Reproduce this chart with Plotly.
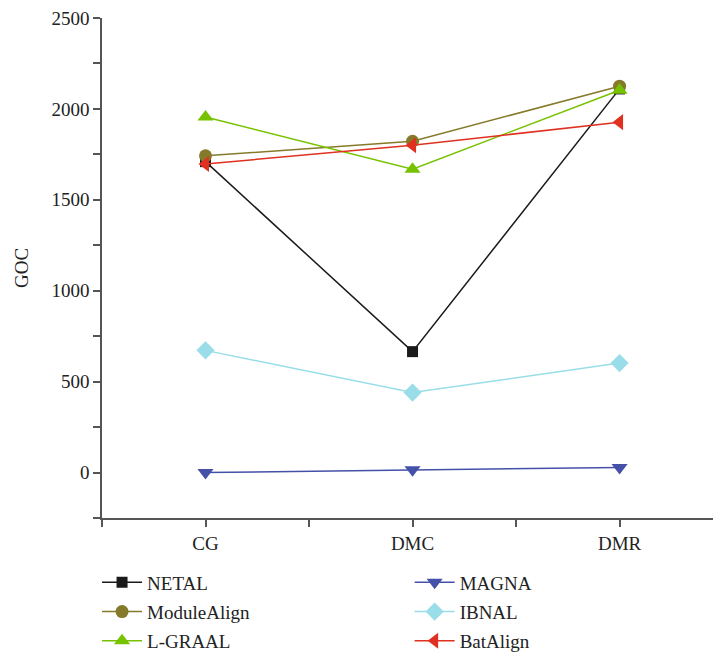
import plotly.graph_objects as go

categories = ["CG", "DMC", "DMR"]
netal = [1710, 665, 2110]
module_align = [1742, 1822, 2125]
l_graal = [1955, 1668, 2103]
magna = [0, 15, 28]
ibnal = [672, 440, 602]
batalign = [1697, 1800, 1927]

xpos = list(range(len(categories)))
FONT = "Liberation Serif"
FS = 19

series = [
    ("NETAL", netal, "#1a1a1a", "square", 11, "legend"),
    ("ModuleAlign", module_align, "#857a2a", "circle", 13, "legend"),
    ("L-GRAAL", l_graal, "#77c200", "triangle-up", 14, "legend"),
    ("MAGNA", magna, "#4550a8", "triangle-down", 14, "legend2"),
    ("IBNAL", ibnal, "#99dde8", "diamond", 14, "legend2"),
    ("BatAlign", batalign, "#e03020", "triangle-left", 14, "legend2"),
]

fig = go.Figure()
for name, vals, color, sym, size, leg in series:
    fig.add_trace(go.Scatter(
        x=xpos, y=vals, name=name, mode="lines+markers",
        line=dict(color=color, width=1.5),
        marker=dict(symbol=sym, size=size, color=color),
        legend=leg, legendgroup=name,
    ))

axis_common = dict(
    showline=True, linecolor="#555555", linewidth=1.5,
    ticks="outside", ticklen=7, tickcolor="#555555", tickwidth=1.5,
    showgrid=False, zeroline=False, automargin=False,
    ticklabeloverflow="allow",
    tickfont=dict(family=FONT, size=FS, color="#222222"),
)

fig.update_xaxes(
    range=[-0.5, 2.49], tickvals=xpos, ticktext=categories,
    minor=dict(ticks="outside", ticklen=7, tickcolor="#555555", tickwidth=1.5,
               tickvals=[-0.5, 0.5, 1.5]),
    **axis_common,
)
fig.update_yaxes(
    range=[-250, 2500], tickvals=[0, 500, 1000, 1500, 2000, 2500],
    minor=dict(ticks="outside", ticklen=7, tickcolor="#555555", tickwidth=1.5,
               dtick=250, tick0=0),
    title=dict(text="GOC", font=dict(family=FONT, size=FS, color="#222222"), standoff=18),
    **axis_common,
)

legend_common = dict(
    font=dict(family=FONT, size=FS, color="#222222"),
    bgcolor="rgba(0,0,0,0)", tracegroupgap=1.5, itemwidth=40,
    xanchor="left", yanchor="top", orientation="v",
)
fig.update_layout(
    width=713, height=646,
    margin=dict(l=94, r=0, t=10, b=136, autoexpand=False),
    plot_bgcolor="white", paper_bgcolor="white",
    font=dict(family=FONT, size=FS, color="#222222"),
    legend=dict(x=-0.008, y=-0.091, **legend_common),
    legend2=dict(x=0.497, y=-0.091, **legend_common),
)

fig.write_html("out.html")
